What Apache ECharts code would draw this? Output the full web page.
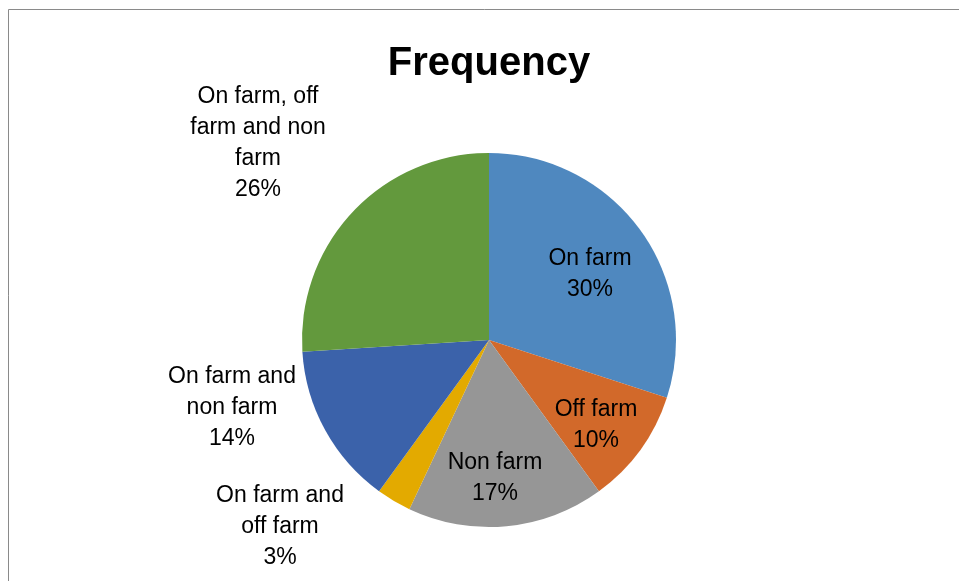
<!DOCTYPE html>
<html>
<head>
<meta charset="utf-8">
<script src="https://cdn.jsdelivr.net/npm/echarts@6/dist/echarts.min.js"></script>
<style>
html,body{margin:0;padding:0;background:#fff;}
#chart{width:959px;height:581px;}
</style>
</head>
<body>
<div id="chart"></div>
<script>
// ---- data ----
const categories = ['On farm', 'Off farm', 'Non farm', 'On farm and\noff farm', 'On farm and\nnon farm', 'On farm, off\nfarm and non\nfarm'];
const values = [30, 10, 17, 3, 14, 26];
const colors = ['#4F88BF', '#D2692A', '#969696', '#E3AA00', '#3B62AA', '#63993D'];

// ---- label layout (offsets of label centre from pie centre, px) ----
const labelOffsets = [[101, -66], [107, 85], [6, 138], [-209, 187], [-257, 68], [-231, -197]];

const CX = 489, CY = 340, R = 187;

const chart = echarts.init(document.getElementById('chart'));
chart.setOption({
  backgroundColor: '#fff',
  animation: false,
  title: {
    text: 'Frequency',
    left: 484,
    top: 39,
    textAlign: 'center',
    textStyle: { fontFamily: 'Liberation Sans', fontWeight: 'bold', fontSize: 40, color: '#000' }
  },
  graphic: [{
    type: 'rect',
    shape: { x: 8.5, y: 9.5, width: 980, height: 620 },
    style: { fill: 'none', stroke: '#8a8a8a', lineWidth: 1 },
    silent: true
  }],
  series: [{
    type: 'pie',
    center: [CX, CY],
    radius: R,
    startAngle: 90,
    clockwise: true,
    avoidLabelOverlap: false,
    itemStyle: { borderWidth: 0 },
    label: {
      show: true,
      position: 'inside',
      formatter: p => p.name + '\n' + Math.round(p.percent) + '%',
      fontFamily: 'Liberation Sans',
      fontSize: 23,
      lineHeight: 31,
      color: '#000',
      align: 'center',
      verticalAlign: 'middle'
    },
    labelLine: { show: false },
    labelLayout: function (params) {
      const o = labelOffsets[params.dataIndex];
      return { x: CX + o[0], y: CY + o[1], align: 'center', verticalAlign: 'middle' };
    },
    emphasis: { disabled: true },
    data: categories.map((c, i) => ({ name: c, value: values[i], itemStyle: { color: colors[i] } }))
  }]
});
</script>
</body>
</html>
